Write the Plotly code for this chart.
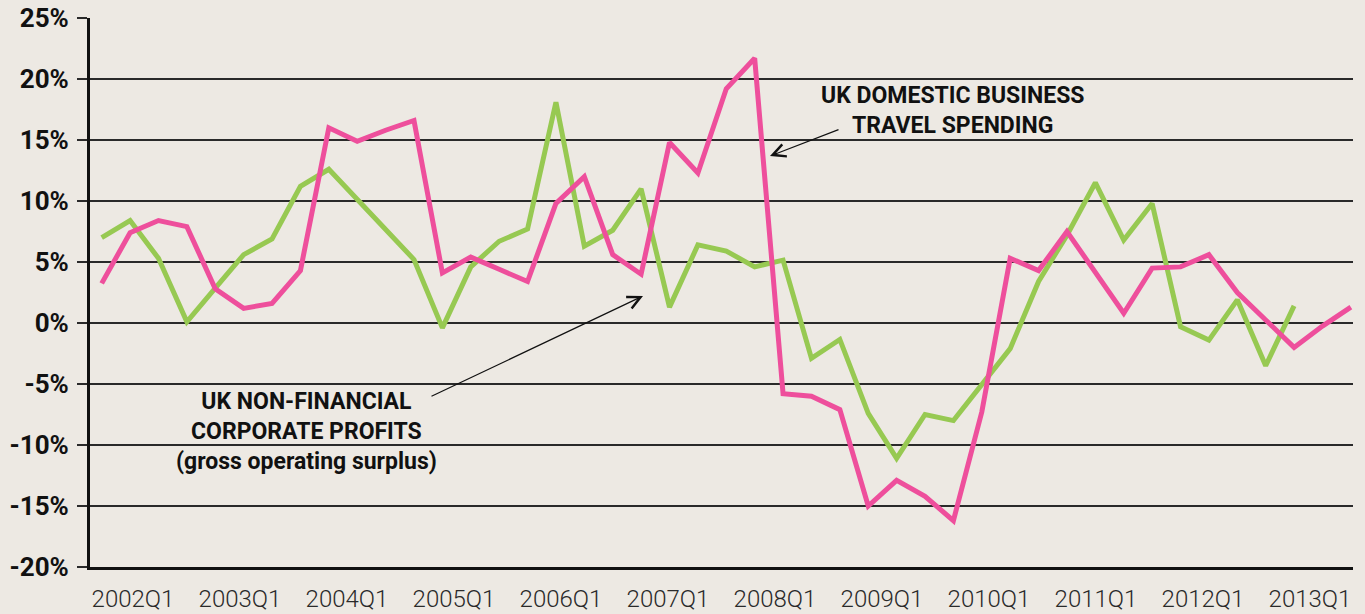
import plotly.graph_objects as go

# ---- data ----
travel_spending = [3.25, 7.4, 8.4, 7.9, 2.8, 1.2, 1.6, 4.3, 16.0, 14.9, 15.8, 16.6,
                   4.1, 5.4, 4.4, 3.4, 9.8, 12.0, 5.6, 4.0, 14.8, 12.3, 19.2, 21.7,
                   -5.8, -6.0, -7.1, -15.0, -12.9, -14.2, -16.2, -7.3, 5.3, 4.3, 7.5,
                   4.1, 0.8, 4.5, 4.6, 5.6, 2.5, 0.25, -2.0, -0.25, 1.3]
corporate_profits = [7.0, 8.4, 5.3, 0.1, 2.85, 5.6, 6.9, 11.2, 12.6, 10.1, 7.6, 5.2,
                     -0.4, 4.6, 6.7, 7.7, 18.1, 6.3, 7.6, 11.0, 1.3, 6.4, 5.9, 4.6,
                     5.15, -2.9, -1.35, -7.4, -11.1, -7.5, -8.0, -5.1, -2.1, 3.4, 7.2,
                     11.5, 6.8, 9.8, -0.3, -1.4, 1.9, -3.5, 1.4]
quarter_index_travel = list(range(len(travel_spending)))
quarter_index_profits = list(range(len(corporate_profits)))
tick_labels = ["2002Q1", "2003Q1", "2004Q1", "2005Q1", "2006Q1", "2007Q1",
               "2008Q1", "2009Q1", "2010Q1", "2011Q1", "2012Q1", "2013Q1"]
y_ticks = [-20, -15, -10, -5, 0, 5, 10, 15, 20, 25]

# ---- layout geometry ----
W, H = 1365, 614
LEFT, RIGHT_EDGE, TOP, BOTTOM = 90, 1353, 18, 567
FIRST_PX, STEP_PX = 101.7, 28.39
Y_MIN, Y_MAX = -20, 25


def px2x(px):
    return (px - FIRST_PX) / STEP_PX


def px2y(py):
    return Y_MAX - (py - TOP) * (Y_MAX - Y_MIN) / (BOTTOM - TOP)


x_range = [px2x(LEFT), px2x(RIGHT_EDGE)]
tick_positions = [px2x(133 + 107 * k) for k in range(len(tick_labels))]

PINK = "#EE4F9C"
GREEN = "#97C952"
BG = "#EDE9E3"
GRID = "#2a2a2a"

fig = go.Figure()
fig.add_trace(go.Scatter(x=quarter_index_profits, y=corporate_profits, mode="lines",
                         line=dict(color=GREEN, width=5), name="UK non-financial corporate profits"))
fig.add_trace(go.Scatter(x=quarter_index_travel, y=travel_spending, mode="lines",
                         line=dict(color=PINK, width=5), name="UK domestic business travel spending"))

ann_font = dict(family="Roboto", size=23, color="#111111", weight=700)
fig.add_annotation(x=px2x(306), y=px2y(431), xref="x", yref="y",
                   text="UK NON-FINANCIAL<br>CORPORATE PROFITS<br>(gross operating surplus)",
                   showarrow=False, xanchor="center", yanchor="middle", align="center",
                   font=ann_font)
fig.add_annotation(x=px2x(953), y=px2y(110), xref="x", yref="y",
                   text="UK DOMESTIC BUSINESS<br>TRAVEL SPENDING",
                   showarrow=False, xanchor="center", yanchor="middle", align="center",
                   font=ann_font)
# arrows
fig.add_annotation(x=px2x(643), y=px2y(296), ax=px2x(430), ay=px2y(397),
                   xref="x", yref="y", axref="x", ayref="y", text="",
                   showarrow=True, arrowhead=5, arrowsize=2.1, arrowwidth=1.2,
                   arrowcolor="#111111", standoff=0)
fig.add_annotation(x=px2x(770), y=px2y(156), ax=px2x(840), ay=px2y(129),
                   xref="x", yref="y", axref="x", ayref="y", text="",
                   showarrow=True, arrowhead=5, arrowsize=2.1, arrowwidth=1.2,
                   arrowcolor="#111111", standoff=0)

fig.update_layout(
    width=W, height=H,
    margin=dict(l=LEFT, r=W - RIGHT_EDGE, t=TOP, b=H - BOTTOM, pad=0, autoexpand=False),
    paper_bgcolor=BG, plot_bgcolor=BG,
    showlegend=False,
    xaxis=dict(range=x_range, showgrid=False, zeroline=False, automargin=False,
               showline=True, linecolor="#111111", linewidth=3,
               tickmode="array", tickvals=tick_positions, ticktext=tick_labels,
               ticks="", ticklabelstandoff=8,
               tickfont=dict(family="Roboto", size=24, color="#2a2a2a", weight=300)),
    yaxis=dict(range=[Y_MIN, Y_MAX], tickmode="array", tickvals=y_ticks,
               ticktext=[f"{v}%" for v in y_ticks], automargin=False,
               showgrid=True, gridcolor=GRID, gridwidth=2, zeroline=False,
               showline=True, linecolor="#111111", linewidth=3,
               ticks="outside", ticklen=10, tickwidth=2, tickcolor=GRID,
               ticklabelstandoff=3,
               tickfont=dict(family="Roboto", size=26, color="#111111", weight=700)),
)

fig.write_html(
    "out.html",
    config={"displayModeBar": False},
    post_script="document.body.style.margin='0px';document.body.style.background='" + BG + "';",
)
